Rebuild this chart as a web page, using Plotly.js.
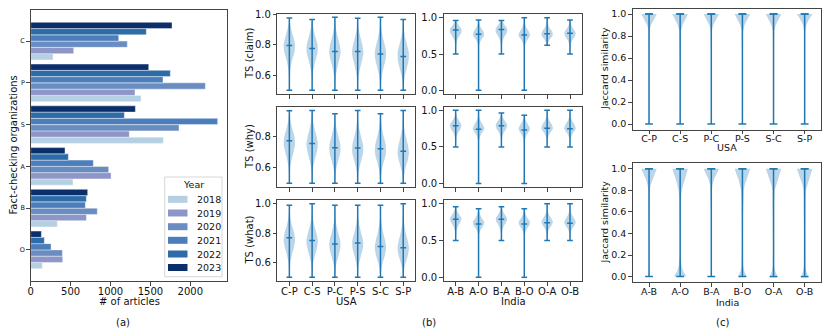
<!DOCTYPE html>
<html>
<head>
<meta charset="utf-8">
<script src="https://cdn.plot.ly/plotly-3.0.1.min.js"></script>
<style>html,body{margin:0;padding:0;background:#fff}</style>
</head>
<body>
<div id="chart" style="width:830px;height:328px"></div>
<script>
// (a) articles per organization, one array per year (order of orgs)
const orgs = ['O', 'B', 'A', 'S', 'P', 'C'];
const years = ['2018', '2019', '2020', '2021', '2022', '2023'];
const yearColors = ['#b5cfe3', '#8e96c8', '#6a8dc1', '#4c7ebc', '#2e6ca9', '#0a2f6b'];
const articles2018 = [146, 334, 530, 1662, 1383, 280];
const articles2019 = [401, 698, 1007, 1236, 1307, 539];
const articles2020 = [397, 835, 977, 1859, 2189, 1211];
const articles2021 = [255, 685, 785, 2343, 1658, 1103];
const articles2022 = [171, 698, 472, 1174, 1750, 1449];
const articles2023 = [134, 714, 430, 1312, 1479, 1771];
const articlesByYear = [articles2018, articles2019, articles2020, articles2021, articles2022, articles2023];

// (b) / (c) pairs
const usaPairs = ['C-P', 'C-S', 'P-C', 'P-S', 'S-C', 'S-P'];
const indiaPairs = ['A-B', 'A-O', 'B-A', 'B-O', 'O-A', 'O-B'];
const pairPos = [1, 2, 3, 4, 5, 6];

// density profiles (relative width, 1 = widest) read at these similarity levels
const tsGrid = [0.5, 0.55, 0.6, 0.65, 0.7, 0.75, 0.8, 0.85, 0.9, 0.95, 1.0];
const jacGrid = [0, 0.05, 0.1, 0.2, 0.3, 0.4, 0.5, 0.6, 0.7, 0.8, 0.85, 0.9, 0.95, 1.0];

// TS (claim)
const claimUsaMin = [0.5, 0.5, 0.5, 0.5, 0.5, 0.5];
const claimUsaMax = [0.978, 0.967, 0.983, 0.976, 0.983, 0.967];
const claimUsaMed = [0.796, 0.776, 0.757, 0.757, 0.74, 0.724];
const claimUsaDens = [
  [0.0, 0.02, 0.08, 0.22, 0.5, 0.88, 1.0, 0.72, 0.35, 0.1, 0],
  [0.0, 0.03, 0.1, 0.3, 0.62, 0.95, 0.95, 0.6, 0.28, 0.08, 0],
  [0.01, 0.05, 0.18, 0.42, 0.75, 1.0, 0.85, 0.5, 0.22, 0.06, 0],
  [0.01, 0.06, 0.2, 0.45, 0.78, 1.0, 0.82, 0.48, 0.2, 0.06, 0],
  [0.02, 0.08, 0.25, 0.55, 0.88, 1.0, 0.75, 0.42, 0.18, 0.05, 0],
  [0.03, 0.12, 0.32, 0.65, 0.95, 0.98, 0.68, 0.35, 0.14, 0.04, 0]
];
const claimIndiaMin = [0.5, 0.0, 0.5, 0.0, 0.62, 0.5];
const claimIndiaMax = [0.96, 0.967, 0.96, 1.0, 1.0, 0.967];
const claimIndiaMed = [0.83, 0.77, 0.836, 0.76, 0.777, 0.786];
const claimIndiaDens = [
  [0.01, 0.02, 0.05, 0.12, 0.3, 0.65, 1.0, 0.95, 0.5, 0.15, 0],
  [0.01, 0.03, 0.08, 0.2, 0.5, 0.95, 0.9, 0.5, 0.2, 0.06, 0],
  [0.01, 0.02, 0.05, 0.12, 0.3, 0.62, 0.98, 0.98, 0.55, 0.18, 0],
  [0.02, 0.04, 0.1, 0.25, 0.58, 1.0, 0.85, 0.45, 0.2, 0.07, 0.02],
  [0, 0, 0.04, 0.18, 0.45, 0.95, 0.92, 0.5, 0.2, 0.07, 0.02],
  [0.01, 0.03, 0.08, 0.2, 0.48, 0.9, 0.95, 0.55, 0.22, 0.07, 0]
];

// TS (why)
const whyUsaMin = [0.5, 0.5, 0.5, 0.5, 0.5, 0.5];
const whyUsaMax = [0.968, 0.97, 0.948, 0.97, 0.948, 0.97];
const whyUsaMed = [0.774, 0.757, 0.729, 0.727, 0.723, 0.706];
const whyUsaDens = [
  [0.01, 0.04, 0.14, 0.38, 0.72, 1.0, 0.9, 0.52, 0.22, 0.06, 0],
  [0.01, 0.05, 0.18, 0.45, 0.8, 1.0, 0.8, 0.45, 0.18, 0.05, 0],
  [0.02, 0.08, 0.28, 0.62, 0.95, 0.95, 0.62, 0.3, 0.1, 0.03, 0],
  [0.02, 0.09, 0.3, 0.65, 0.96, 0.92, 0.6, 0.3, 0.12, 0.04, 0],
  [0.02, 0.1, 0.32, 0.68, 0.98, 0.9, 0.58, 0.28, 0.11, 0.04, 0],
  [0.04, 0.15, 0.42, 0.8, 1.0, 0.8, 0.48, 0.22, 0.09, 0.03, 0]
];
const whyIndiaMin = [0.5, 0.0, 0.5, 0.0, 0.5, 0.5];
const whyIndiaMax = [1.0, 1.0, 0.964, 0.932, 1.0, 1.0];
const whyIndiaMed = [0.79, 0.742, 0.79, 0.733, 0.756, 0.75];
const whyIndiaDens = [
  [0.01, 0.03, 0.08, 0.2, 0.45, 0.85, 1.0, 0.65, 0.28, 0.08, 0.01],
  [0.02, 0.05, 0.12, 0.3, 0.68, 1.0, 0.75, 0.38, 0.14, 0.04, 0.01],
  [0.01, 0.03, 0.08, 0.2, 0.45, 0.85, 1.0, 0.65, 0.28, 0.08, 0],
  [0.02, 0.05, 0.13, 0.33, 0.72, 1.0, 0.7, 0.35, 0.12, 0.03, 0],
  [0.01, 0.04, 0.1, 0.26, 0.6, 1.0, 0.85, 0.45, 0.18, 0.06, 0.01],
  [0.01, 0.04, 0.1, 0.27, 0.62, 1.0, 0.82, 0.43, 0.17, 0.05, 0.01]
];

// TS (what)
const whatUsaMin = [0.5, 0.5, 0.5, 0.5, 0.5, 0.5];
const whatUsaMax = [0.99, 1.0, 0.99, 0.99, 0.99, 1.0];
const whatUsaMed = [0.768, 0.75, 0.726, 0.733, 0.71, 0.70];
const whatUsaDens = [
  [0.01, 0.05, 0.16, 0.42, 0.78, 1.0, 0.85, 0.48, 0.2, 0.06, 0.01],
  [0.01, 0.06, 0.2, 0.5, 0.85, 1.0, 0.75, 0.4, 0.16, 0.05, 0.01],
  [0.02, 0.09, 0.3, 0.65, 0.96, 0.92, 0.6, 0.3, 0.11, 0.04, 0.01],
  [0.02, 0.08, 0.27, 0.6, 0.92, 0.95, 0.62, 0.32, 0.13, 0.05, 0.01],
  [0.04, 0.14, 0.4, 0.78, 1.0, 0.82, 0.5, 0.25, 0.1, 0.03, 0.01],
  [0.05, 0.16, 0.44, 0.82, 1.0, 0.78, 0.47, 0.23, 0.1, 0.04, 0.01]
];
const whatIndiaMin = [0.5, 0.0, 0.5, 0.0, 0.5, 0.5];
const whatIndiaMax = [0.96, 0.932, 0.96, 0.932, 1.0, 1.0];
const whatIndiaMed = [0.787, 0.723, 0.787, 0.723, 0.74, 0.735];
const whatIndiaDens = [
  [0.01, 0.03, 0.08, 0.2, 0.45, 0.85, 1.0, 0.62, 0.26, 0.07, 0],
  [0.02, 0.05, 0.15, 0.4, 0.82, 1.0, 0.6, 0.28, 0.1, 0.03, 0],
  [0.01, 0.03, 0.08, 0.2, 0.46, 0.86, 1.0, 0.6, 0.25, 0.07, 0],
  [0.02, 0.05, 0.15, 0.4, 0.82, 1.0, 0.6, 0.28, 0.1, 0.03, 0],
  [0.01, 0.04, 0.12, 0.32, 0.72, 1.0, 0.72, 0.35, 0.13, 0.04, 0.01],
  [0.01, 0.04, 0.12, 0.33, 0.74, 1.0, 0.7, 0.34, 0.12, 0.04, 0.01]
];

// (c) Jaccard similarity
const jacUsaMin = [0, 0, 0, 0, 0, 0];
const jacUsaMax = [1, 1, 1, 1, 1, 1];
const jacUsaMed = [1, 1, 1, 1, 1, 1];
const jacUsaDens = [
  [0.03, 0.02, 0.02, 0.02, 0.02, 0.02, 0.02, 0.02, 0.02, 0.04, 0.08, 0.25, 0.6, 1.0],
  [0.03, 0.02, 0.02, 0.02, 0.02, 0.02, 0.02, 0.02, 0.03, 0.06, 0.12, 0.32, 0.65, 1.0],
  [0.02, 0.01, 0.01, 0.01, 0.01, 0.01, 0.01, 0.01, 0.02, 0.04, 0.08, 0.25, 0.6, 1.0],
  [0.03, 0.01, 0.01, 0.01, 0.01, 0.01, 0.01, 0.01, 0.02, 0.04, 0.1, 0.28, 0.62, 1.0],
  [0.03, 0.01, 0.01, 0.01, 0.01, 0.01, 0.01, 0.01, 0.02, 0.05, 0.1, 0.28, 0.62, 1.0],
  [0.02, 0.01, 0.01, 0.01, 0.01, 0.01, 0.01, 0.01, 0.01, 0.03, 0.07, 0.22, 0.55, 1.0]
];
const jacIndiaMin = [0, 0, 0, 0, 0, 0];
const jacIndiaMax = [1, 1, 1, 1, 1, 1];
const jacIndiaMed = [1, 1, 1, 1, 1, 1];
const jacIndiaDens = [
  [0.08, 0.03, 0.02, 0.02, 0.02, 0.02, 0.02, 0.03, 0.05, 0.1, 0.2, 0.4, 0.7, 1.0],
  [0.8, 0.4, 0.18, 0.06, 0.04, 0.04, 0.05, 0.06, 0.1, 0.2, 0.35, 0.55, 0.8, 1.0],
  [0.03, 0.02, 0.02, 0.02, 0.02, 0.02, 0.02, 0.02, 0.04, 0.08, 0.15, 0.35, 0.65, 1.0],
  [0.55, 0.25, 0.1, 0.06, 0.06, 0.06, 0.08, 0.08, 0.1, 0.18, 0.3, 0.5, 0.78, 1.0],
  [0.5, 0.22, 0.1, 0.06, 0.06, 0.08, 0.1, 0.08, 0.08, 0.15, 0.28, 0.5, 0.78, 1.0],
  [0.45, 0.2, 0.1, 0.06, 0.06, 0.07, 0.09, 0.08, 0.08, 0.15, 0.28, 0.5, 0.78, 1.0]
];

const W = 830, H = 328;
const fx = (a, b) => [a / W, b / W];
const fy = (top, bottom) => [(H - bottom) / H, (H - top) / H];
const blue = '#1f77b4';
const textCol = '#111';
const font = 'DejaVu Sans, Verdana, sans-serif';

function violinTraces(n, grid, mins, maxs, meds, dens, shape) {
    const xa = 'x' + n, ya = 'y' + n;
    const fxs = [], fys = [], lx = [], ly = [];
    for (let i = 0; i < mins.length; i++) {
        const p = pairPos[i];
        let pts = [];
        grid.forEach((g, k) => {
            if (g >= mins[i] && g <= maxs[i]) pts.push([g, dens[i][k]]);
        });
        if (pts[0][0] > mins[i]) pts.unshift([mins[i], 0]);
        if (pts[pts.length - 1][0] < maxs[i]) pts.push([maxs[i], 0]);
        pts.forEach(q => { fxs.push(p - 0.25 * q[1]); fys.push(q[0]); });
        pts.slice().reverse().forEach(q => { fxs.push(p + 0.25 * q[1]); fys.push(q[0]); });
        fxs.push(null); fys.push(null);

        lx.push(p, p, null); ly.push(mins[i], maxs[i], null);
        [mins[i], maxs[i], meds[i]].forEach(v => {
            lx.push(p - 0.125, p + 0.125, null); ly.push(v, v, null);
        });
    }
    return [
        {x: fxs, y: fys, xaxis: xa, yaxis: ya, type: 'scatter', mode: 'lines',
         fill: 'toself', fillcolor: 'rgba(31,119,180,0.3)',
         line: {width: 0, shape: shape, smoothing: 0.8}, hoverinfo: 'skip', showlegend: false},
        {x: lx, y: ly, xaxis: xa, yaxis: ya, type: 'scatter', mode: 'lines',
         line: {color: blue, width: 1.5}, hoverinfo: 'skip', showlegend: false}
    ];
}

let data = [];
years.forEach((yr, k) => {
    data.push({
        type: 'bar', orientation: 'h', name: yr,
        x: articlesByYear[k], y: orgs, xaxis: 'x', yaxis: 'y',
        marker: {color: yearColors[k], line: {color: 'rgba(255,255,255,0.7)', width: 0.6}},
        showlegend: false
    });
});
data = data.concat(
    violinTraces(2, tsGrid, claimUsaMin, claimUsaMax, claimUsaMed, claimUsaDens, 'spline'),
    violinTraces(3, tsGrid, claimIndiaMin, claimIndiaMax, claimIndiaMed, claimIndiaDens, 'spline'),
    violinTraces(4, tsGrid, whyUsaMin, whyUsaMax, whyUsaMed, whyUsaDens, 'spline'),
    violinTraces(5, tsGrid, whyIndiaMin, whyIndiaMax, whyIndiaMed, whyIndiaDens, 'spline'),
    violinTraces(6, tsGrid, whatUsaMin, whatUsaMax, whatUsaMed, whatUsaDens, 'spline'),
    violinTraces(7, tsGrid, whatIndiaMin, whatIndiaMax, whatIndiaMed, whatIndiaDens, 'spline'),
    violinTraces(8, jacGrid, jacUsaMin, jacUsaMax, jacUsaMed, jacUsaDens, 'linear'),
    violinTraces(9, jacGrid, jacIndiaMin, jacIndiaMax, jacIndiaMed, jacIndiaDens, 'linear')
);

function axis(extra) {
    return Object.assign({
        showline: true, mirror: true, linecolor: '#444', linewidth: 1,
        ticks: 'outside', ticklen: 3.5, tickwidth: 1, tickcolor: '#444',
        showgrid: false, zeroline: false,
        tickfont: {size: 10, color: textCol, family: font}
    }, extra);
}

const colL = fx(277.4, 415.2), colR = fx(443.7, 582);
const row1 = fy(14, 94), row2 = fy(106.7, 187.2), row3 = fy(200, 281);
const colC = fx(632.7, 821), rowC1 = fy(8.5, 129.5), rowC2 = fy(163.3, 282);
const smallTicks = {size: 9.5, color: textCol, family: font};
const pairAxis = (labels, dom, anchor, showLabels) => axis({
    domain: dom, anchor: anchor, range: [0.475, 6.525],
    tickvals: pairPos, ticktext: labels, showticklabels: showLabels,
    ticklabelstandoff: -3
});

const layout = {
    width: W, height: H,
    margin: {l: 0, r: 0, t: 0, b: 0},
    paper_bgcolor: '#fff', plot_bgcolor: '#fff',
    font: {family: font, color: textCol},
    showlegend: false,
    barmode: 'group', bargap: 0.1, bargroupgap: 0,
    xaxis: axis({domain: fx(30.7, 227), anchor: 'y', range: [0, 2460],
                 tickvals: [0, 500, 1000, 1500, 2000], ticklabelstandoff: -3}),
    yaxis: axis({domain: fy(10, 281), anchor: 'x', type: 'category',
                 categoryorder: 'array', categoryarray: orgs, range: [-0.745, 5.745],
                 tickfont: {size: 6.5, color: textCol, family: font}}),
    xaxis2: pairAxis(usaPairs, colL, 'y2', false),
    yaxis2: axis({domain: row1, anchor: 'x2', range: [0.476, 1.004], tickvals: [0.6, 0.8, 1.0], tickformat: '.1f'}),
    xaxis3: pairAxis(indiaPairs, colR, 'y3', false),
    yaxis3: axis({domain: row1, anchor: 'x3', range: [-0.05, 1.05], tickvals: [0, 0.5, 1.0], tickformat: '.1f'}),
    xaxis4: pairAxis(usaPairs, colL, 'y4', false),
    yaxis4: axis({domain: row2, anchor: 'x4', range: [0.475, 0.994], tickvals: [0.6, 0.8], tickformat: '.1f'}),
    xaxis5: pairAxis(indiaPairs, colR, 'y5', false),
    yaxis5: axis({domain: row2, anchor: 'x5', range: [-0.05, 1.05], tickvals: [0, 0.5, 1.0], tickformat: '.1f'}),
    xaxis6: pairAxis(usaPairs, colL, 'y6', true),
    yaxis6: axis({domain: row3, anchor: 'x6', range: [0.475, 1.025], tickvals: [0.6, 0.8, 1.0], tickformat: '.1f'}),
    xaxis7: pairAxis(indiaPairs, colR, 'y7', true),
    yaxis7: axis({domain: row3, anchor: 'x7', range: [-0.05, 1.05], tickvals: [0, 0.5, 1.0], tickformat: '.1f'}),
    xaxis8: pairAxis(usaPairs, colC, 'y8', true),
    yaxis8: axis({domain: rowC1, anchor: 'x8', range: [-0.05, 1.05], tickvals: [0, 0.2, 0.4, 0.6, 0.8, 1.0], tickformat: '.1f',
                  tickfont: smallTicks}),
    xaxis9: pairAxis(indiaPairs, colC, 'y9', true),
    yaxis9: axis({domain: rowC2, anchor: 'x9', range: [-0.05, 1.05], tickvals: [0, 0.2, 0.4, 0.6, 0.8, 1.0], tickformat: '.1f',
                  tickfont: smallTicks}),
    annotations: [],
    shapes: []
};
layout.xaxis8.tickfont = smallTicks;
layout.xaxis9.tickfont = smallTicks;

function note(text, px, py, size, angle) {
    return {text: text, x: px / W, y: 1 - py / H, xref: 'paper', yref: 'paper',
            showarrow: false, xanchor: 'center', yanchor: 'middle', textangle: angle || 0,
            font: {size: size, color: textCol, family: font}};
}
layout.annotations.push(
    note('Fact-checking organizations', 13, 145.5, 10, -90),
    note('# of articles', 129, 301, 10),
    note('(a)', 123, 322, 10),
    note('TS (claim)', 249, 54, 10, -90),
    note('TS (why)', 249, 147, 10, -90),
    note('TS (what)', 249, 240.5, 10, -90),
    note('USA', 346, 301, 10),
    note('India', 513, 301, 10),
    note('(b)', 429, 322, 10),
    note('Jaccard similarity', 605, 69, 9.5, -90),
    note('Jaccard similarity', 605, 222.6, 9.5, -90),
    note('USA', 727, 147, 9.5),
    note('India', 727, 302, 9.5),
    note('(c)', 722, 322, 10)
);

// legend box for panel (a)
layout.shapes.push({type: 'rect', xref: 'paper', yref: 'paper',
    x0: 164.7 / W, x1: 222 / W, y0: 1 - 276.7 / H, y1: 1 - 177 / H,
    line: {color: '#d6d6d6', width: 1}, fillcolor: 'rgba(255,255,255,0.85)', layer: 'above'});
layout.annotations.push(note('Year', 193.5, 185, 9.5));
const entryY = [199.3, 213, 226.7, 240.3, 254, 267.5];
years.forEach((yr, k) => {
    layout.shapes.push({type: 'rect', xref: 'paper', yref: 'paper',
        x0: 168 / W, x1: 187.5 / W, y0: 1 - (entryY[k] + 3.5) / H, y1: 1 - (entryY[k] - 3.5) / H,
        line: {width: 0}, fillcolor: yearColors[k], layer: 'above'});
    const a = note(yr, 194.5, entryY[k], 9.5);
    a.xanchor = 'left';
    layout.annotations.push(a);
});

Plotly.newPlot('chart', data, layout, {staticPlot: true, displayModeBar: false});
</script>
</body>
</html>
